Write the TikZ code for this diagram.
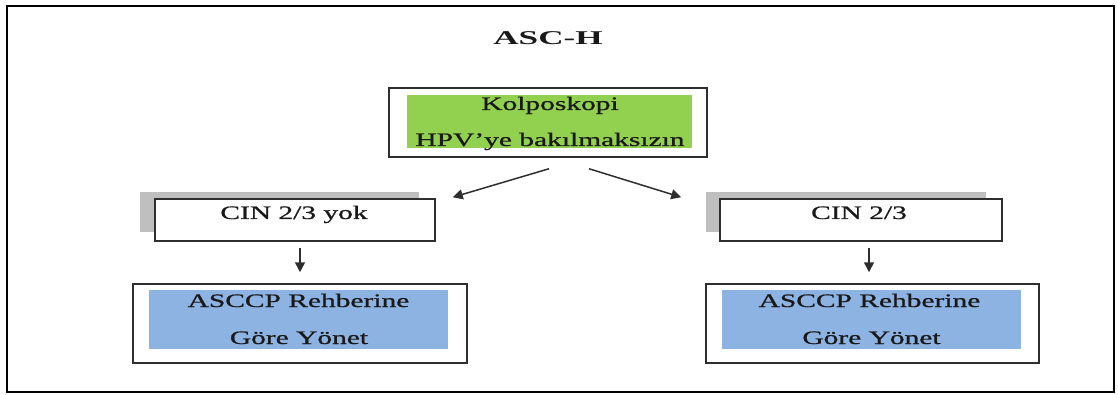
\documentclass[tikz,border=0pt]{standalone}
\usepackage{fontspec}
\setmainfont{Liberation Serif}
\newfontfamily\heavyserif[FakeBold=0.7]{Liberation Serif}
\usetikzlibrary{arrows.meta,calc}

\definecolor{boxgreen}{HTML}{92D050}
\definecolor{boxblue}{HTML}{8DB3E2}
\definecolor{shadowgray}{HTML}{BFBFBF}
\definecolor{edgegray}{HTML}{2E2E2E}

% wide, horizontally stretched lettering
\newcommand\wtext[1]{\scalebox{1.55}[1]{#1}}
\newcommand\wbold[1]{\scalebox{1.8}[1]{\bfseries #1}}

\begin{document}
\begin{tikzpicture}[x=1pt,y=-1pt,
  frame/.style={draw=black, line width=2.6pt, inner sep=0pt},
  panel/.style={draw=edgegray, line width=1.5pt, fill=white, inner sep=0pt},
  tintgreen/.style={fill=boxgreen, inner sep=0pt},
  tintblue/.style={fill=boxblue, inner sep=0pt},
  shade/.style={fill=shadowgray, inner sep=0pt},
  label/.style={anchor=base, inner sep=0pt, text=black!90,
    font=\heavyserif\fontsize{19}{22}\selectfont},
  link/.style={draw=edgegray, line width=1.5pt,
    -{Triangle[length=10pt,width=10pt]}}]

\useasboundingbox (0,0) rectangle (1118,395);

% outer frame
\node[frame, minimum width=1107, minimum height=386] (frame) at (560.5,199) {};

% heading
\node[anchor=base, inner sep=0pt, text=black!90, font=\fontsize{19.5}{22}\selectfont]
  (title) at (548,45) {\wbold{ASC-H}};

% colposcopy box
\node[panel, minimum width=318, minimum height=69] (kolp) at (548,122.5) {};
\node[tintgreen, minimum width=285, minimum height=53] (kolpfill) at (549.5,121.5) {};
\node[label] (kolpA) at (550,110) {\wtext{Kolposkopi}};
\node[label] (kolpB) at (550,146) {\wtext{HPV’ye bakılmaksızın}};

% left branch: no CIN 2/3
\node[shade, minimum width=279, minimum height=40] (cinlsh) at (279.5,212) {};
\node[panel, minimum width=280, minimum height=42] (cinl) at (295,220) {};
\node[label] (cinlT) at (294,219) {\wtext{CIN 2/3 yok}};

% right branch: CIN 2/3
\node[shade, minimum width=280, minimum height=40] (cinrsh) at (846,212) {};
\node[panel, minimum width=282, minimum height=42] (cinr) at (861,220) {};
\node[label] (cinrT) at (859,219) {\wtext{CIN 2/3}};

% management boxes
\node[panel, minimum width=334, minimum height=79] (mgl) at (300,323.5) {};
\node[tintblue, minimum width=299, minimum height=59] (mglfill) at (298.5,319.5) {};
\node[label] (mglA) at (298.5,307) {\wtext{ASCCP Rehberine}};
\node[label] (mglB) at (299,344) {\wtext{Göre Yönet}};

\node[panel, minimum width=333, minimum height=79] (mgr) at (872.5,323.5) {};
\node[tintblue, minimum width=299, minimum height=59] (mgrfill) at (871.5,319.5) {};
\node[label] (mgrA) at (869.5,307) {\wtext{ASCCP Rehberine}};
\node[label] (mgrB) at (871.5,344) {\wtext{Göre Yönet}};

% arrow ends
\coordinate (kolpL) at ($(kolp.south)+(1,11)$);
\coordinate (kolpR) at ($(kolp.south)+(41,11)$);
\coordinate (cinlIn) at ($(cinl.north east)+(17,-1)$);
\coordinate (cinrIn) at ($(cinr.north west)+(-38,-1)$);
\coordinate (cinlOut) at ($(cinl.south)+(5,6)$);
\coordinate (cinrOut) at ($(cinr.south)+(8,6)$);
\coordinate (mglIn) at ($(mgl.north)+(0,-11)$);
\coordinate (mgrIn) at ($(cinrOut |- mgr.north)+(0,-11)$);

% connectors
\draw[link] (kolpL) -- (cinlIn);
\draw[link] (kolpR) -- (cinrIn);
\draw[link] (cinlOut) -- (mglIn);
\draw[link] (cinrOut) -- (mgrIn);
\end{tikzpicture}
\end{document}
